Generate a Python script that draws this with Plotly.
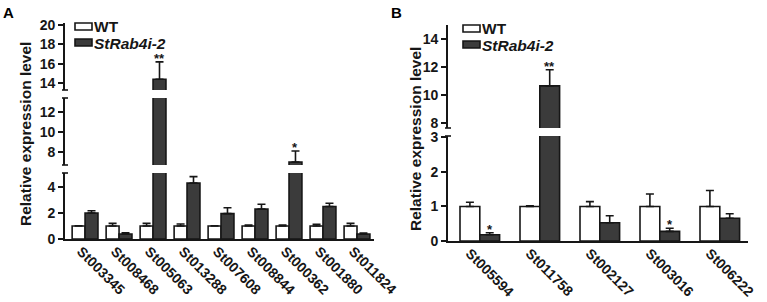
import plotly.graph_objects as go

# ---------------- data ----------------
genes_a = ["St003345", "St008468", "St005063", "St013288", "St007608",
           "St008844", "St000362", "St001880", "St011824"]
wt_a = [1.0, 1.0, 1.0, 1.0, 1.0, 1.0, 1.0, 1.0, 1.0]
wt_a_err = [0.02, 0.2, 0.2, 0.15, 0.02, 0.08, 0.07, 0.13, 0.2]
mut_a = [2.0, 0.38, 14.4, 4.3, 1.95, 2.3, 7.0, 2.5, 0.38]
mut_a_err = [0.17, 0.1, 1.8, 0.5, 0.45, 0.38, 1.1, 0.25, 0.07]
sig_a = ["", "", "**", "", "", "", "*", "", ""]

genes_b = ["St005594", "St011758", "St002127", "St003016", "St006222"]
wt_b = [1.0, 1.0, 1.0, 1.0, 1.0]
wt_b_err = [0.12, 0.02, 0.14, 0.36, 0.46]
mut_b = [0.18, 10.65, 0.53, 0.28, 0.66]
mut_b_err = [0.06, 1.15, 0.2, 0.09, 0.13]
sig_b = ["*", "**", "", "*", ""]

series_names = ["WT", "StRab4i-2"]
y_title = "Relative expression level"

# ---------------- style ----------------
W, H = 767, 302
FONT = "Arial, Liberation Sans, sans-serif"
DARK = "#161616"
MUT_FILL = "#3b3b3b"
LW = 1.6


def px(x):
    return x / W


def py(y):
    return 1 - y / H


def b(t):
    return "<b>%s</b>" % t


fig = go.Figure()

w_a = 0.38
w_b = 0.33


def add_bars(xa, ya, xs, wt, wte, mu, mue, w):
    fig.add_trace(go.Bar(
        x=xs, y=wt, width=w, offset=-w, xaxis=xa, yaxis=ya,
        marker=dict(color="white", line=dict(color=DARK, width=LW)),
        error_y=dict(type="data", array=wte, arrayminus=[0] * len(wte),
                     symmetric=False, color=DARK, thickness=LW, width=4),
        name=series_names[0], showlegend=False, hoverinfo="skip"))
    fig.add_trace(go.Bar(
        x=xs, y=mu, width=w, offset=0, xaxis=xa, yaxis=ya,
        marker=dict(color=MUT_FILL, line=dict(color=DARK, width=LW)),
        error_y=dict(type="data", array=mue, arrayminus=[0] * len(mue),
                     symmetric=False, color=DARK, thickness=LW, width=4),
        name=series_names[1], showlegend=False, hoverinfo="skip"))


xa_idx = list(range(len(genes_a)))
xb_idx = list(range(len(genes_b)))
for ya in ["y", "y2", "y3"]:
    add_bars("x", ya, xa_idx, wt_a, wt_a_err, mut_a, mut_a_err, w_a)
for ya in ["y4", "y5"]:
    add_bars("x2", ya, xb_idx, wt_b, wt_b_err, mut_b, mut_b_err, w_b)

tickfont = dict(family=FONT, size=14, color=DARK)

yax_common = dict(showline=True, linecolor=DARK, linewidth=LW, ticks="outside",
                  ticklen=5, tickwidth=LW, tickcolor=DARK, showgrid=False,
                  zeroline=False, tickfont=tickfont, automargin=False, fixedrange=True)
xax_common = dict(showline=True, linecolor=DARK, linewidth=LW, ticks="",
                  showgrid=False, zeroline=False, tickfont=dict(family=FONT, size=14, color=DARK),
                  tickangle=45, ticklabelstandoff=-3, ticklabeloverflow="allow",
                  automargin=False, fixedrange=True)

# panel A segments (pixel positions)
segA = {"yaxis": (239, 173, [0, 5.08], [0, 2, 4]),
        "yaxis2": (165, 98, [6.7, 13.4], [8, 10, 12]),
        "yaxis3": (90, 23, [13.3, 20.2], [14, 16, 18, 20])}
segB = {"yaxis4": (241, 136, [0, 3.04], [0, 1, 2, 3]),
        "yaxis5": (128, 25, [7.64, 15.0], [8, 10, 12, 14])}

layout = dict(
    width=W, height=H, margin=dict(l=0, r=0, t=0, b=0),
    paper_bgcolor="white", plot_bgcolor="white", barmode="overlay",
    showlegend=False, font=dict(family=FONT, color=DARK),
    xaxis=dict(domain=[px(65), px(374)], range=[-0.59, 8.5], anchor="y",
               tickvals=xa_idx, ticktext=[b(g) for g in genes_a],
               ticklabelshift=-4, **xax_common),
    xaxis2=dict(domain=[px(448), px(748)], range=[-0.53, 4.47], anchor="y4",
                tickvals=xb_idx, ticktext=[b(g) for g in genes_b],
                ticklabelshift=-10, **xax_common),
)
for name, (bt, t, rng, tv) in segA.items():
    layout[name] = dict(domain=[py(bt), py(t)], range=rng, tickvals=tv,
                        ticktext=[b(v) for v in tv], anchor="x", **yax_common)
for name, (bt, t, rng, tv) in segB.items():
    layout[name] = dict(domain=[py(bt), py(t)], range=rng, tickvals=tv,
                        ticktext=[b(v) for v in tv], anchor="x2", **yax_common)
fig.update_layout(**layout)

shapes = []
# break caps on axis lines
for xline, ys in [(65, [173, 165, 98, 90]), (448, [136, 128])]:
    for yy in ys:
        shapes.append(dict(type="line", xref="paper", yref="paper",
                           x0=px(xline - 3), x1=px(xline + 3), y0=py(yy), y1=py(yy),
                           line=dict(color=DARK, width=LW)))

annotations = []
# legends
for (lx, ly1, ly2) in [(75, 26.5, 42.5), (463, 28.5, 44.5)]:
    for i, (yy, fill) in enumerate([(ly1, "white"), (ly2, MUT_FILL)]):
        shapes.append(dict(type="rect", xref="paper", yref="paper",
                           x0=px(lx), x1=px(lx + 17), y0=py(yy - 3.5), y1=py(yy + 3.5),
                           fillcolor=fill, line=dict(color=DARK, width=LW)))
        txt = b(series_names[i]) if i == 0 else "<b><i>%s</i></b>" % series_names[i]
        annotations.append(dict(xref="paper", yref="paper", x=px(lx + 17), y=py(yy),
                                xanchor="left", yanchor="middle", showarrow=False,
                                height=14, valign="middle",
                                text=txt, font=dict(family=FONT, size=15.5, color=DARK)))

# panel letters
for lab, lx in [("A", 1), ("B", 389)]:
    annotations.append(dict(xref="paper", yref="paper", x=px(lx), y=py(12.5),
                            xanchor="left", yanchor="middle", showarrow=False, text=b(lab),
                            font=dict(family=FONT, size=15, color="black")))

# y titles
for cx, cy in [(25, 134), (415, 139)]:
    annotations.append(dict(xref="paper", yref="paper", x=px(cx), y=py(cy),
                            xanchor="center", yanchor="middle", showarrow=False,
                            text=b(y_title), textangle=-90,
                            font=dict(family=FONT, size=15.5, color=DARK)))


# significance stars
def seg_for(v, segs):
    for name, (bt, t, rng, tv) in segs.items():
        if rng[0] <= v <= rng[1]:
            return "y" + name[5:]
    return None


def add_stars(sig, vals, errs, w, xref, segs):
    for i, s in enumerate(sig):
        if s:
            top = vals[i] + errs[i]
            annotations.append(dict(xref=xref, yref=seg_for(top, segs), x=i + w / 2, y=top,
                                    xanchor="center", yanchor="top", showarrow=False,
                                    text=b(s), yshift=13,
                                    font=dict(family=FONT, size=13, color=DARK)))


add_stars(sig_a, mut_a, mut_a_err, w_a, "x", segA)
add_stars(sig_b, mut_b, mut_b_err, w_b, "x2", segB)

fig.update_layout(shapes=shapes, annotations=annotations)
fig.write_html("out.html", config={"displayModeBar": False},
               post_script="document.body.style.margin='0';document.body.style.overflow='hidden';")
